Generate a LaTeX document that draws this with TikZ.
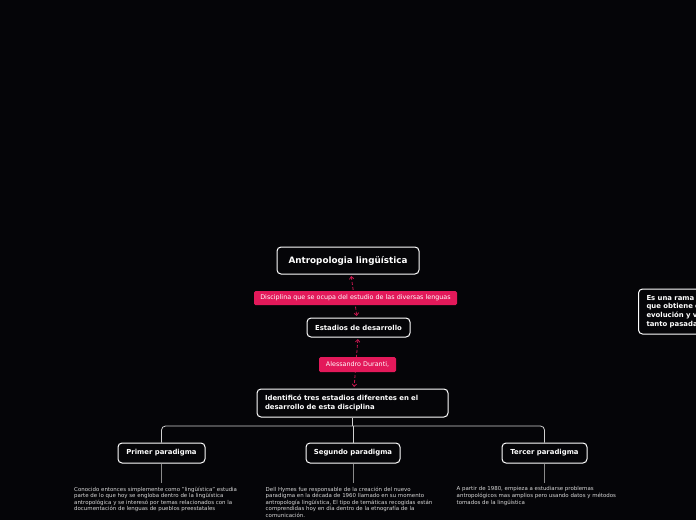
\documentclass[tikz,border=0pt]{standalone}
\usepackage{fontspec}
\setmainfont{DejaVu Sans}
\usetikzlibrary{arrows.meta}
\definecolor{bg}{HTML}{050508}
\definecolor{pinkbox}{HTML}{E3195A}
\definecolor{pinkline}{HTML}{C8174F}
\definecolor{bodytext}{HTML}{D8D8D8}
\definecolor{treeline}{HTML}{D0D0D0}
\definecolor{stemline}{HTML}{8A8A8A}
\tikzset{
  topic/.style={draw=white, line width=1pt, rounded corners=4pt, fill=bg, text=white,
    font=\bfseries\fontsize{6.9}{8.3}\selectfont, inner sep=0pt, align=center},
  rootnode/.style={topic, font=\bfseries\fontsize{8.8}{10}\selectfont},
  pinklabel/.style={fill=pinkbox, rounded corners=1.5pt, text=white, inner sep=0pt,
    font=\fontsize{6.4}{7.5}\selectfont},
  dasharrow/.style={draw=pinkline, line width=0.8pt, dash pattern=on 3pt off 2pt,
    {Straight Barb[length=2.5pt,width=4.5pt]}-{Straight Barb[length=2.5pt,width=4.5pt]}},
  treeconn/.style={draw=treeline, line width=0.8pt, rounded corners=4pt},
  stem/.style={draw=stemline, line width=0.8pt},
  bodyblock/.style={text=bodytext, font=\fontsize{5.45}{6.6}\selectfont, align=left, inner sep=0pt, anchor=north west}
}
\begin{document}
\begin{tikzpicture}[x=1pt, y=-1pt]
\useasboundingbox (0,0) rectangle (696,520);
\fill[bg] (0,0) rectangle (696,520);
\clip (0,0) rectangle (696,520);

% main nodes
\node[rootnode, minimum width=142pt, minimum height=27pt] (antro) at (348,260.5) {Antropologia lingüística};
\node[topic, minimum width=103pt, minimum height=19pt] (est) at (358.5,327.5) {Estadios de desarrollo};
\node[topic, minimum width=191pt, minimum height=28pt, text width=175pt, align=left] (ident) at (352.5,403)
  {Identificó tres estadios diferentes en el\\desarrollo de esta disciplina};
\node[topic, minimum width=87pt, minimum height=20pt] (p1) at (161.5,453) {Primer paradigma};
\node[topic, minimum width=94pt, minimum height=20pt] (p2) at (353,453) {Segundo paradigma};
\node[topic, minimum width=85pt, minimum height=20pt] (p3) at (544.5,453) {Tercer paradigma};
\node[topic, minimum width=120pt, minimum height=45pt, text width=104pt, align=left, anchor=west,
  font=\bfseries\fontsize{6.9}{8.7}\selectfont] (rama) at (638,311.5)
  {Es una rama\\que obtiene e\\evolución y v\\tanto pasada};

% dashed connectors
\draw[dasharrow, shorten <=1.5pt, shorten >=1.5pt] ([xshift=3pt]antro.south) -- ([xshift=-1.5pt]est.north);
\draw[dasharrow, shorten <=1.5pt, shorten >=1.5pt] ([xshift=-0.5pt]est.south) -- ([xshift=1.5pt]ident.north);

% pink labels on the connectors
\node[pinklabel, minimum width=203pt, minimum height=14pt] (lab1) at (355.5,298) {Disciplina que se ocupa del estudio de las diversas lenguas};
\node[pinklabel, minimum width=77pt, minimum height=15pt] (lab2) at (357.5,364.5) {Alessandro Duranti,};

% tree connectors
\coordinate (j) at (353,426);
\draw[treeconn] (ident.south) -- (ident.south |- j);
\draw[treeconn] (p1.north) -- (p1.north |- j) -- (p3.north |- j) -- (p3.north);
\draw[treeconn] (p2.north |- j) -- (p2.north);

% stems
\coordinate (s1) at (161.5,483);
\coordinate (s2) at (353,483);
\coordinate (s3) at (544.5,483);
\draw[stem] (p1.south) -- (s1);
\draw[stem] (p2.south) -- (s2);
\draw[stem] (p3.south) -- (s3);

% body texts
\node[bodyblock] (t1) at (74,486.5) {Conocido entonces simplemente como "lingüística" estudia\\parte de lo que hoy se engloba dentro de la lingüística\\antropológica y se interesó por temas relacionados con la\\documentación de lenguas de pueblos preestatales};
\node[bodyblock] (t2) at (265.5,486.5) {Dell Hymes fue responsable de la creación del nuevo\\paradigma en la década de 1960 llamado en su momento\\antropología lingüística, El tipo de temáticas recogidas están\\comprendidas hoy en día dentro de la etnografía de la\\comunicación.};
\node[bodyblock] (t3) at (456.5,486.5) {A partir de 1980, empieza a estudiarse problemas\\antropológicos mas amplios pero usando datos y métodos\\tomados de la lingüística};
\end{tikzpicture}
\end{document}
